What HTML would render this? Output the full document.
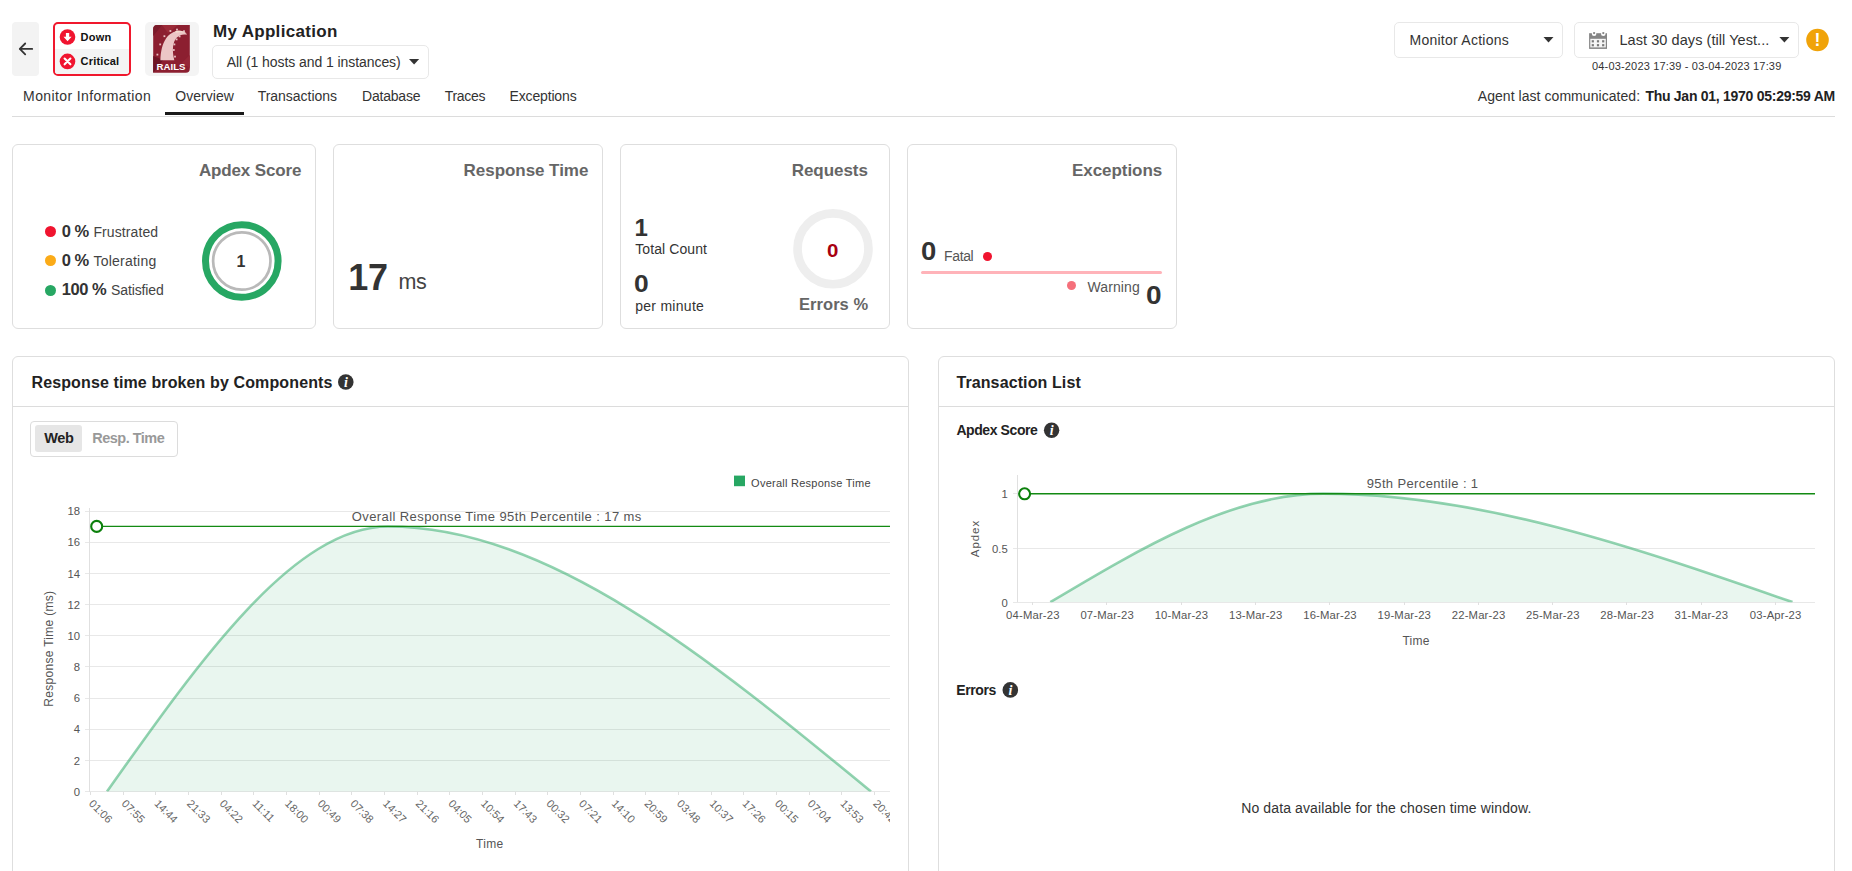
<!DOCTYPE html>
<html lang="en">
<head>
<meta charset="utf-8">
<title>My Application - Overview</title>
<style>
*{box-sizing:border-box}
html,body{margin:0;padding:0;background:#fff}
body{width:1852px;height:871px;overflow:hidden;position:relative;font-family:"Liberation Sans",sans-serif;color:#333}
.t{position:absolute;white-space:pre;line-height:1;font-family:"Liberation Sans",sans-serif}
.abs{position:absolute}
.card{position:absolute;top:144px;height:185px;border:1px solid #dedede;border-radius:6px;background:#fff}
.panel{position:absolute;top:356px;height:560px;border:1px solid #dedede;border-radius:6px;background:#fff}
.dd{position:absolute;border:1px solid #e8e8e8;border-radius:5px;background:#fff}
.dot{position:absolute;border-radius:50%}
svg{position:absolute;left:0;top:0;overflow:visible}
svg text{font-family:"Liberation Sans",sans-serif}
</style>
</head>
<body>

<!-- ===== header ===== -->
<div class="abs" style="left:12px;top:22px;width:27px;height:54px;background:#f3f3f3;border-radius:4px"></div>
<div class="abs" style="left:53px;top:22px;width:78px;height:54px;border:2px solid #f0182d;border-radius:5px;background:#fff;overflow:hidden">
  <div class="abs" style="left:0;top:25px;width:74px;height:25px;background:#f4f4f4"></div>
</div>
<div class="abs" style="left:145px;top:22px;width:54px;height:54px;background:#f4f4f4;border-radius:5px"></div>
<div class="dd" style="left:212px;top:45px;width:217px;height:34px"></div>
<div class="dd" style="left:1394px;top:22px;width:169px;height:36px"></div>
<div class="dd" style="left:1574px;top:22px;width:225px;height:36px"></div>
<div class="abs" style="left:12px;top:116px;width:1823px;height:1px;background:#dcdcdc"></div>
<div class="abs" style="left:165px;top:112px;width:79px;height:3px;background:#1a1a1a"></div>

<!-- ===== cards ===== -->
<div class="card" style="left:12px;width:304px"></div>
<div class="card" style="left:333px;width:270px"></div>
<div class="card" style="left:620px;width:270px"></div>
<div class="card" style="left:907px;width:270px"></div>

<div class="dot" style="left:44.9px;top:226px;width:11px;height:11px;background:#f0142f"></div>
<div class="dot" style="left:44.9px;top:255.4px;width:11px;height:11px;background:#fbab18"></div>
<div class="dot" style="left:44.9px;top:284.8px;width:11px;height:11px;background:#27a763"></div>

<div class="dot" style="left:982.8px;top:251.7px;width:9px;height:9px;background:#f0142f"></div>
<div class="abs" style="left:921px;top:271px;width:241px;height:3px;background:#ffb3b9;border-radius:2px"></div>
<div class="dot" style="left:1067.1px;top:281.2px;width:9px;height:9px;background:#f5707b"></div>

<!-- ===== panels ===== -->
<div class="panel" style="left:12px;width:897px"></div>
<div class="panel" style="left:938px;width:897px"></div>
<div class="abs" style="left:13px;top:406px;width:895px;height:1px;background:#dcdcdc"></div>
<div class="abs" style="left:939px;top:406px;width:895px;height:1px;background:#dcdcdc"></div>
<div class="abs" style="left:30px;top:421px;width:148px;height:36px;border:1px solid #dcdcdc;border-radius:4px"></div>
<div class="abs" style="left:35px;top:425px;width:47px;height:27px;background:#e6e6e6;border-radius:3px"></div>

<svg width="1852" height="871" viewBox="0 0 1852 871">
<g fill="none" stroke="#333" stroke-width="1.8" stroke-linecap="round" stroke-linejoin="round"><path d="M32.2 48.9H19.8M25.2 43.5L19.8 48.9l5.4 5.4"/></g>
<circle cx="67.5" cy="37" r="7.8" fill="#f0142f"/>
<path d="M65.9 33h3.3v3.8h2.4l-4.05 4.4-4.05-4.4h2.4z" fill="#fff"/>
<circle cx="67.5" cy="61.4" r="7.8" fill="#f0142f"/>
<path d="M64.6 58.5l5.8 5.8M70.4 58.5l-5.8 5.8" stroke="#fff" stroke-width="2.1" stroke-linecap="round" fill="none"/>
<g id="rails">
<path d="M157.2 25.1H189.8V68.8a4 4 0 0 1-4 4H153.2V29.1a4 4 0 0 1 4-4z" fill="#8c1f30"/>
<path d="M153.2 60V36l9-10.9h-5a4 4 0 0 0-4 4z" fill="#7a1a2a"/>
<path d="M162 25.1l6 8 10-8z" fill="#9b2a38"/>
<path d="M189.8 30v25l-8 8 8 5z" fill="#962636"/>
<path d="M153.2 56l10 4-10 12.8z" fill="#6d1525"/>
<path d="M160.4 60.2C160.6 52 162.3 44 166 38.5C169.5 33.2 175 30.6 180 31C183 31.3 185.6 32.6 187 34.8C183 33.8 179.4 35 176.6 37.8C172.8 42 171.8 50 174.3 60.2Z" fill="#ecc6c6"/>
<path d="M175 31.2c4-1.3 8-0.6 12 2.6-3.6-1.6-7.4-1.9-11-1z" fill="#f3dcd0"/>
<rect x="156.5" y="53.7" width="1.8" height="1.8" fill="#f1d3d3" opacity="0.9"/>
<rect x="159.3" y="43.5" width="1.8" height="1.8" fill="#f1d3d3" opacity="0.9"/>
<rect x="163.5" y="35.3" width="1.8" height="1.8" fill="#f1d3d3" opacity="0.9"/>
<rect x="169.5" y="30.1" width="1.8" height="1.8" fill="#f1d3d3" opacity="0.9"/>
<rect x="176.1" y="28.7" width="1.8" height="1.8" fill="#f1d3d3" opacity="0.9"/>
<rect x="178.7" y="35.5" width="1.8" height="1.8" fill="#f1d3d3" opacity="0.9"/>
<rect x="175.7" y="38.5" width="1.8" height="1.8" fill="#f1d3d3" opacity="0.9"/>
<rect x="173.5" y="43.5" width="1.8" height="1.8" fill="#f1d3d3" opacity="0.9"/>
<rect x="172.9" y="49.1" width="1.8" height="1.8" fill="#f1d3d3" opacity="0.9"/>
<rect x="174.1" y="55.7" width="1.8" height="1.8" fill="#f1d3d3" opacity="0.9"/>
<rect x="183.1" y="30.3" width="1.8" height="1.8" fill="#f1d3d3" opacity="0.9"/>
<text x="156.6" y="70" font-size="9" font-weight="700" fill="#fff" textLength="28.8" lengthAdjust="spacingAndGlyphs">RAILS</text>
</g>
<path d="M409 59H419.2L414.1 64.4z" fill="#333"/>
<path d="M1543.5 37H1553.5L1548.5 42.4z" fill="#333"/>
<path d="M1779.4 37H1789.4L1784.4 42.4z" fill="#333"/>
<g id="cal">
<rect x="1589.1" y="33.2" width="17.9" height="15.7" fill="#858585"/>
<rect x="1590.3" y="38.8" width="15.5" height="8.6" fill="#f6f6f6"/>
<rect x="1591.7" y="40.2" width="2.2" height="2.2" fill="#7a7a7a"/>
<rect x="1591.7" y="44.1" width="2.2" height="2.2" fill="#7a7a7a"/>
<rect x="1596.9" y="40.2" width="2.2" height="2.2" fill="#7a7a7a"/>
<rect x="1596.9" y="44.1" width="2.2" height="2.2" fill="#7a7a7a"/>
<rect x="1602.1" y="40.2" width="2.2" height="2.2" fill="#7a7a7a"/>
<rect x="1602.1" y="44.1" width="2.2" height="2.2" fill="#7a7a7a"/>
<circle cx="1594.1" cy="33.7" r="2.3" fill="#fff"/>
<circle cx="1594.1" cy="33.1" r="1.15" fill="#858585"/>
<circle cx="1603.3" cy="33.7" r="2.3" fill="#fff"/>
<circle cx="1603.3" cy="33.1" r="1.15" fill="#858585"/>
</g>
<circle cx="1817.5" cy="40" r="11.3" fill="#f0a30a"/>
<text x="1817.5" y="46.2" font-size="17.5" font-weight="700" fill="#fff" text-anchor="middle">!</text>
<circle cx="241.8" cy="261" r="36.3" fill="none" stroke="#27a763" stroke-width="7"/>
<circle cx="241.8" cy="261" r="28.7" fill="none" stroke="#b9b9b9" stroke-width="2.7"/>
<circle cx="833" cy="248.8" r="35.45" fill="none" stroke="#eeeeee" stroke-width="8.7"/>
<circle cx="345.8" cy="382" r="7.8" fill="#333"/>
<text x="346.0" y="387" font-size="14" font-weight="700" font-style="italic" style="font-family:'Liberation Serif',serif" fill="#fff" text-anchor="middle">i</text>
<circle cx="1051.6" cy="430.2" r="7.7" fill="#333"/>
<text x="1051.8" y="435.2" font-size="14" font-weight="700" font-style="italic" style="font-family:'Liberation Serif',serif" fill="#fff" text-anchor="middle">i</text>
<circle cx="1010.3" cy="689.9" r="7.8" fill="#333"/>
<text x="1010.5" y="694.9" font-size="14" font-weight="700" font-style="italic" style="font-family:'Liberation Serif',serif" fill="#fff" text-anchor="middle">i</text>
<g id="c1" shape-rendering="crispEdges">
<line x1="85" x2="890" y1="791.50" y2="791.50" stroke="#e8e8e8" stroke-width="1"/>
<line x1="85" x2="890" y1="760.33" y2="760.33" stroke="#e8e8e8" stroke-width="1"/>
<line x1="85" x2="890" y1="729.17" y2="729.17" stroke="#e8e8e8" stroke-width="1"/>
<line x1="85" x2="890" y1="698.00" y2="698.00" stroke="#e8e8e8" stroke-width="1"/>
<line x1="85" x2="890" y1="666.83" y2="666.83" stroke="#e8e8e8" stroke-width="1"/>
<line x1="85" x2="890" y1="635.67" y2="635.67" stroke="#e8e8e8" stroke-width="1"/>
<line x1="85" x2="890" y1="604.50" y2="604.50" stroke="#e8e8e8" stroke-width="1"/>
<line x1="85" x2="890" y1="573.33" y2="573.33" stroke="#e8e8e8" stroke-width="1"/>
<line x1="85" x2="890" y1="542.17" y2="542.17" stroke="#e8e8e8" stroke-width="1"/>
<line x1="85" x2="890" y1="511.00" y2="511.00" stroke="#e8e8e8" stroke-width="1"/>
<line x1="89.5" x2="89.5" y1="508" y2="791.5" stroke="#e0e0e0" stroke-width="1"/>
<line x1="90.50" x2="90.50" y1="791.5" y2="795.0" stroke="#e0e0e0" stroke-width="1"/>
<line x1="123.17" x2="123.17" y1="791.5" y2="795.0" stroke="#e0e0e0" stroke-width="1"/>
<line x1="155.84" x2="155.84" y1="791.5" y2="795.0" stroke="#e0e0e0" stroke-width="1"/>
<line x1="188.51" x2="188.51" y1="791.5" y2="795.0" stroke="#e0e0e0" stroke-width="1"/>
<line x1="221.18" x2="221.18" y1="791.5" y2="795.0" stroke="#e0e0e0" stroke-width="1"/>
<line x1="253.85" x2="253.85" y1="791.5" y2="795.0" stroke="#e0e0e0" stroke-width="1"/>
<line x1="286.52" x2="286.52" y1="791.5" y2="795.0" stroke="#e0e0e0" stroke-width="1"/>
<line x1="319.19" x2="319.19" y1="791.5" y2="795.0" stroke="#e0e0e0" stroke-width="1"/>
<line x1="351.86" x2="351.86" y1="791.5" y2="795.0" stroke="#e0e0e0" stroke-width="1"/>
<line x1="384.53" x2="384.53" y1="791.5" y2="795.0" stroke="#e0e0e0" stroke-width="1"/>
<line x1="417.20" x2="417.20" y1="791.5" y2="795.0" stroke="#e0e0e0" stroke-width="1"/>
<line x1="449.87" x2="449.87" y1="791.5" y2="795.0" stroke="#e0e0e0" stroke-width="1"/>
<line x1="482.54" x2="482.54" y1="791.5" y2="795.0" stroke="#e0e0e0" stroke-width="1"/>
<line x1="515.21" x2="515.21" y1="791.5" y2="795.0" stroke="#e0e0e0" stroke-width="1"/>
<line x1="547.88" x2="547.88" y1="791.5" y2="795.0" stroke="#e0e0e0" stroke-width="1"/>
<line x1="580.55" x2="580.55" y1="791.5" y2="795.0" stroke="#e0e0e0" stroke-width="1"/>
<line x1="613.22" x2="613.22" y1="791.5" y2="795.0" stroke="#e0e0e0" stroke-width="1"/>
<line x1="645.89" x2="645.89" y1="791.5" y2="795.0" stroke="#e0e0e0" stroke-width="1"/>
<line x1="678.56" x2="678.56" y1="791.5" y2="795.0" stroke="#e0e0e0" stroke-width="1"/>
<line x1="711.23" x2="711.23" y1="791.5" y2="795.0" stroke="#e0e0e0" stroke-width="1"/>
<line x1="743.90" x2="743.90" y1="791.5" y2="795.0" stroke="#e0e0e0" stroke-width="1"/>
<line x1="776.57" x2="776.57" y1="791.5" y2="795.0" stroke="#e0e0e0" stroke-width="1"/>
<line x1="809.24" x2="809.24" y1="791.5" y2="795.0" stroke="#e0e0e0" stroke-width="1"/>
<line x1="841.91" x2="841.91" y1="791.5" y2="795.0" stroke="#e0e0e0" stroke-width="1"/>
<line x1="874.58" x2="874.58" y1="791.5" y2="795.0" stroke="#e0e0e0" stroke-width="1"/>
</g>
<defs><clipPath id="pl1"><rect x="89" y="500" width="801" height="291.6"/></clipPath><clipPath id="pl2"><rect x="1017" y="470" width="798" height="132.3"/></clipPath></defs>
<path d="M107.00,791.50C200.67,659.00 294.33,526.50 388.00,526.50C549.00,526.50 710.00,659.00 871.00,791.50L871,791.5L107,791.5Z" fill="#27a763" fill-opacity="0.1"/>
<path d="M107.00,791.50C200.67,659.00 294.33,526.50 388.00,526.50C549.00,526.50 710.00,659.00 871.00,791.50" fill="none" stroke="#27a763" stroke-opacity="0.5" stroke-width="2.6" stroke-linejoin="round" clip-path="url(#pl1)"/>
<line x1="96.7" x2="890" y1="526.4" y2="526.4" stroke="#138a13" stroke-width="1.4"/>
<circle cx="96.7" cy="526.4" r="5.5" fill="#fff" stroke="#0c800c" stroke-width="2.1"/>
<g font-size="11.3" fill="#555" text-anchor="end">
<text x="80.1" y="795.7">0</text>
<text x="80.1" y="764.5">2</text>
<text x="80.1" y="733.4">4</text>
<text x="80.1" y="702.2">6</text>
<text x="80.1" y="671.0">8</text>
<text x="80.1" y="639.9">10</text>
<text x="80.1" y="608.7">12</text>
<text x="80.1" y="577.5">14</text>
<text x="80.1" y="546.4">16</text>
<text x="80.1" y="515.2">18</text>
</g>
<text x="351.8" y="521" font-size="13" fill="#555" textLength="289.5" lengthAdjust="spacing">Overall Response Time 95th Percentile : 17 ms</text>
<rect x="734" y="475.6" width="11" height="10.6" fill="#27a763"/>
<text x="751.1" y="486.6" font-size="11" fill="#444" textLength="119.4" lengthAdjust="spacing">Overall Response Time</text>
<text x="476.1" y="847.8" font-size="12" fill="#555" textLength="27" lengthAdjust="spacing">Time</text>
<text transform="translate(53.1,648.8) rotate(-90)" font-size="12" fill="#555" text-anchor="middle" textLength="115.7" lengthAdjust="spacing">Response Time (ms)</text>
<defs><clipPath id="cp1"><rect x="60" y="790" width="830" height="81"/></clipPath></defs>
<g font-size="11" fill="#666" clip-path="url(#cp1)">
<text transform="translate(88.30,804.3) rotate(45)">01:06</text>
<text transform="translate(120.97,804.3) rotate(45)">07:55</text>
<text transform="translate(153.64,804.3) rotate(45)">14:44</text>
<text transform="translate(186.31,804.3) rotate(45)">21:33</text>
<text transform="translate(218.98,804.3) rotate(45)">04:22</text>
<text transform="translate(251.65,804.3) rotate(45)">11:11</text>
<text transform="translate(284.32,804.3) rotate(45)">18:00</text>
<text transform="translate(316.99,804.3) rotate(45)">00:49</text>
<text transform="translate(349.66,804.3) rotate(45)">07:38</text>
<text transform="translate(382.33,804.3) rotate(45)">14:27</text>
<text transform="translate(415.00,804.3) rotate(45)">21:16</text>
<text transform="translate(447.67,804.3) rotate(45)">04:05</text>
<text transform="translate(480.34,804.3) rotate(45)">10:54</text>
<text transform="translate(513.01,804.3) rotate(45)">17:43</text>
<text transform="translate(545.68,804.3) rotate(45)">00:32</text>
<text transform="translate(578.35,804.3) rotate(45)">07:21</text>
<text transform="translate(611.02,804.3) rotate(45)">14:10</text>
<text transform="translate(643.69,804.3) rotate(45)">20:59</text>
<text transform="translate(676.36,804.3) rotate(45)">03:48</text>
<text transform="translate(709.03,804.3) rotate(45)">10:37</text>
<text transform="translate(741.70,804.3) rotate(45)">17:26</text>
<text transform="translate(774.37,804.3) rotate(45)">00:15</text>
<text transform="translate(807.04,804.3) rotate(45)">07:04</text>
<text transform="translate(839.71,804.3) rotate(45)">13:53</text>
<text transform="translate(872.38,804.3) rotate(45)">20:42</text>
</g>
<g id="c2" shape-rendering="crispEdges">
<line x1="1012.5" x2="1815" y1="493.5" y2="493.5" stroke="#e8e8e8" stroke-width="1"/>
<line x1="1012.5" x2="1815" y1="548.2" y2="548.2" stroke="#e8e8e8" stroke-width="1"/>
<line x1="1012.5" x2="1815" y1="602.1" y2="602.1" stroke="#e8e8e8" stroke-width="1"/>
<line x1="1017.5" x2="1017.5" y1="475" y2="602.1" stroke="#e0e0e0" stroke-width="1"/>
<line x1="1032.60" x2="1032.60" y1="602.1" y2="605.3" stroke="#e0e0e0" stroke-width="1"/>
<line x1="1106.88" x2="1106.88" y1="602.1" y2="605.3" stroke="#e0e0e0" stroke-width="1"/>
<line x1="1181.16" x2="1181.16" y1="602.1" y2="605.3" stroke="#e0e0e0" stroke-width="1"/>
<line x1="1255.44" x2="1255.44" y1="602.1" y2="605.3" stroke="#e0e0e0" stroke-width="1"/>
<line x1="1329.72" x2="1329.72" y1="602.1" y2="605.3" stroke="#e0e0e0" stroke-width="1"/>
<line x1="1404.00" x2="1404.00" y1="602.1" y2="605.3" stroke="#e0e0e0" stroke-width="1"/>
<line x1="1478.28" x2="1478.28" y1="602.1" y2="605.3" stroke="#e0e0e0" stroke-width="1"/>
<line x1="1552.56" x2="1552.56" y1="602.1" y2="605.3" stroke="#e0e0e0" stroke-width="1"/>
<line x1="1626.84" x2="1626.84" y1="602.1" y2="605.3" stroke="#e0e0e0" stroke-width="1"/>
<line x1="1701.12" x2="1701.12" y1="602.1" y2="605.3" stroke="#e0e0e0" stroke-width="1"/>
<line x1="1775.40" x2="1775.40" y1="602.1" y2="605.3" stroke="#e0e0e0" stroke-width="1"/>
</g>
<path d="M1050.30,602.10C1141.30,547.85 1232.30,493.60 1323.30,493.60C1479.70,493.60 1636.10,547.85 1792.50,602.10L1792.5,602.1L1050.3,602.1Z" fill="#27a763" fill-opacity="0.1"/>
<path d="M1050.30,602.10C1141.30,547.85 1232.30,493.60 1323.30,493.60C1479.70,493.60 1636.10,547.85 1792.50,602.10" fill="none" stroke="#27a763" stroke-opacity="0.5" stroke-width="2.6" stroke-linejoin="round" clip-path="url(#pl2)"/>
<line x1="1024.6" x2="1815" y1="493.8" y2="493.8" stroke="#138a13" stroke-width="1.4"/>
<circle cx="1024.6" cy="493.8" r="5.5" fill="#fff" stroke="#0c800c" stroke-width="2.1"/>
<g font-size="11.3" fill="#555" text-anchor="end">
<text x="1007.7" y="497.9">1</text>
<text x="1007.7" y="552.6">0.5</text>
<text x="1007.7" y="606.5">0</text>
</g>
<g font-size="11.3" fill="#555" text-anchor="middle">
<text x="1032.80" y="619" textLength="53.4" lengthAdjust="spacing">04-Mar-23</text>
<text x="1107.08" y="619" textLength="53.4" lengthAdjust="spacing">07-Mar-23</text>
<text x="1181.36" y="619" textLength="53.4" lengthAdjust="spacing">10-Mar-23</text>
<text x="1255.64" y="619" textLength="53.4" lengthAdjust="spacing">13-Mar-23</text>
<text x="1329.92" y="619" textLength="53.4" lengthAdjust="spacing">16-Mar-23</text>
<text x="1404.20" y="619" textLength="53.4" lengthAdjust="spacing">19-Mar-23</text>
<text x="1478.48" y="619" textLength="53.4" lengthAdjust="spacing">22-Mar-23</text>
<text x="1552.76" y="619" textLength="53.4" lengthAdjust="spacing">25-Mar-23</text>
<text x="1627.04" y="619" textLength="53.4" lengthAdjust="spacing">28-Mar-23</text>
<text x="1701.32" y="619" textLength="53.4" lengthAdjust="spacing">31-Mar-23</text>
<text x="1775.60" y="619" textLength="51.5" lengthAdjust="spacing">03-Apr-23</text>
</g>
<text x="1402.4" y="645.3" font-size="12" fill="#555" textLength="27" lengthAdjust="spacing">Time</text>
<text transform="translate(978.6,539) rotate(-90)" font-size="11.5" fill="#555" text-anchor="middle" textLength="36.5" lengthAdjust="spacing">Apdex</text>
<text x="1366.7" y="488" font-size="13" fill="#555" textLength="111.4" lengthAdjust="spacing">95th Percentile : 1</text>
</svg>

<!-- ===== texts ===== -->
<span class="t" style="left:80.6px;top:31.7px;font-size:11px;font-weight:700;color:#111;letter-spacing:0.26px">Down</span>
<span class="t" style="left:80.6px;top:55.7px;font-size:11px;font-weight:700;color:#111;letter-spacing:0.18px">Critical</span>
<span class="t" style="left:213.0px;top:23.1px;font-size:17px;font-weight:700;color:#222;letter-spacing:0.31px">My Application</span>
<span class="t" style="left:226.8px;top:54.9px;font-size:14px;font-weight:400;color:#333;letter-spacing:-0.07px">All (1 hosts and 1 instances)</span>
<span class="t" style="left:23.1px;top:88.8px;font-size:14px;font-weight:400;color:#333;letter-spacing:0.39px">Monitor Information</span>
<span class="t" style="left:175.3px;top:88.8px;font-size:14px;font-weight:400;color:#333;letter-spacing:0.04px">Overview</span>
<span class="t" style="left:257.7px;top:88.8px;font-size:14px;font-weight:400;color:#333;letter-spacing:-0.02px">Transactions</span>
<span class="t" style="left:362.0px;top:88.8px;font-size:14px;font-weight:400;color:#333;letter-spacing:-0.20px">Database</span>
<span class="t" style="left:444.7px;top:88.8px;font-size:14px;font-weight:400;color:#333;letter-spacing:-0.31px">Traces</span>
<span class="t" style="left:509.5px;top:88.8px;font-size:14px;font-weight:400;color:#333;letter-spacing:-0.15px">Exceptions</span>
<span class="t" style="left:1409.5px;top:32.8px;font-size:14px;font-weight:400;color:#333;letter-spacing:0.25px">Monitor Actions</span>
<span class="t" style="left:1619.5px;top:33.3px;font-size:14.5px;font-weight:400;color:#333;letter-spacing:0.06px">Last 30 days (till Yest...</span>
<span class="t" style="left:1592.0px;top:60.6px;font-size:11px;font-weight:400;color:#333;letter-spacing:0.17px">04-03-2023 17:39 - 03-04-2023 17:39</span>
<span class="t" style="left:1477.8px;top:88.8px;font-size:14px;font-weight:400;color:#333;letter-spacing:0.05px">Agent last communicated:</span>
<span class="t" style="left:1645.4px;top:88.8px;font-size:14px;font-weight:700;color:#222;letter-spacing:-0.27px">Thu Jan 01, 1970 05:29:59 AM</span>
<span class="t" style="left:198.9px;top:161.8px;font-size:17px;font-weight:700;color:#666;letter-spacing:-0.14px">Apdex Score</span>
<span class="t" style="left:61.7px;top:222.7px;font-size:16.5px;font-weight:700;color:#333;letter-spacing:-0.48px">0 %</span>
<span class="t" style="left:93.4px;top:224.8px;font-size:14px;font-weight:400;color:#444;letter-spacing:0.10px">Frustrated</span>
<span class="t" style="left:61.7px;top:251.8px;font-size:16.5px;font-weight:700;color:#333;letter-spacing:-0.48px">0 %</span>
<span class="t" style="left:93.4px;top:253.9px;font-size:14px;font-weight:400;color:#444;letter-spacing:0.24px">Tolerating</span>
<span class="t" style="left:61.7px;top:281.0px;font-size:16.5px;font-weight:700;color:#333;letter-spacing:-0.42px">100 %</span>
<span class="t" style="left:111.1px;top:283.1px;font-size:14px;font-weight:400;color:#444;letter-spacing:-0.13px">Satisfied</span>
<span class="t" style="left:236.6px;top:253.8px;font-size:16px;font-weight:700;color:#333;letter-spacing:0.00px">1</span>
<span class="t" style="left:463.6px;top:161.8px;font-size:17px;font-weight:700;color:#666;letter-spacing:-0.05px">Response Time</span>
<span class="t" style="left:348.2px;top:259.7px;font-size:36px;font-weight:700;color:#333;letter-spacing:-0.32px">17</span>
<span class="t" style="left:398.6px;top:271.7px;font-size:21.5px;font-weight:400;color:#444;letter-spacing:-0.54px">ms</span>
<span class="t" style="left:791.7px;top:161.8px;font-size:17px;font-weight:700;color:#666;letter-spacing:-0.05px">Requests</span>
<span class="t" style="left:634.6px;top:215.5px;font-size:24px;font-weight:700;color:#333;letter-spacing:0.00px">1</span>
<span class="t" style="left:635.2px;top:242.0px;font-size:14px;font-weight:400;color:#333;letter-spacing:0.09px">Total Count</span>
<span class="t" style="transform:scaleX(1.1);transform-origin:0 0;left:634.2px;top:271.9px;font-size:24px;font-weight:700;color:#333;letter-spacing:0.00px">0</span>
<span class="t" style="left:635.2px;top:298.5px;font-size:14px;font-weight:400;color:#333;letter-spacing:0.28px">per minute</span>
<span class="t" style="transform:scaleX(1.08);transform-origin:0 0;left:826.9px;top:240.5px;font-size:19px;font-weight:700;color:#a80010;letter-spacing:0.00px">0</span>
<span class="t" style="left:799.0px;top:295.9px;font-size:16.5px;font-weight:700;color:#666;letter-spacing:0.05px">Errors %</span>
<span class="t" style="left:1072.0px;top:161.8px;font-size:17px;font-weight:700;color:#666;letter-spacing:-0.05px">Exceptions</span>
<span class="t" style="transform:scaleX(1.1);transform-origin:0 0;left:921.0px;top:239.1px;font-size:25px;font-weight:700;color:#333;letter-spacing:0.00px">0</span>
<span class="t" style="left:944.0px;top:249.1px;font-size:14px;font-weight:400;color:#555;letter-spacing:-0.35px">Fatal</span>
<span class="t" style="left:1087.6px;top:280.4px;font-size:14px;font-weight:400;color:#555;letter-spacing:0.08px">Warning</span>
<span class="t" style="transform:scaleX(1.12);transform-origin:0 0;left:1146.2px;top:283.3px;font-size:25px;font-weight:700;color:#333;letter-spacing:0.00px">0</span>
<span class="t" style="left:31.5px;top:375.2px;font-size:16px;font-weight:700;color:#222;letter-spacing:0.12px">Response time broken by Components</span>
<span class="t" style="left:44.3px;top:430.7px;font-size:14.5px;font-weight:700;color:#222;letter-spacing:-0.39px">Web</span>
<span class="t" style="left:92.3px;top:430.7px;font-size:14.5px;font-weight:700;color:#999;letter-spacing:-0.52px">Resp. Time</span>
<span class="t" style="left:956.4px;top:375.2px;font-size:16px;font-weight:700;color:#222;letter-spacing:0.11px">Transaction List</span>
<span class="t" style="left:956.4px;top:423.1px;font-size:14px;font-weight:700;color:#222;letter-spacing:-0.41px">Apdex Score</span>
<span class="t" style="left:956.3px;top:683.3px;font-size:14px;font-weight:700;color:#222;letter-spacing:-0.41px">Errors</span>
<span class="t" style="left:1241.2px;top:800.7px;font-size:14px;font-weight:400;color:#333;letter-spacing:0.12px">No data available for the chosen time window.</span>
</body>
</html>
